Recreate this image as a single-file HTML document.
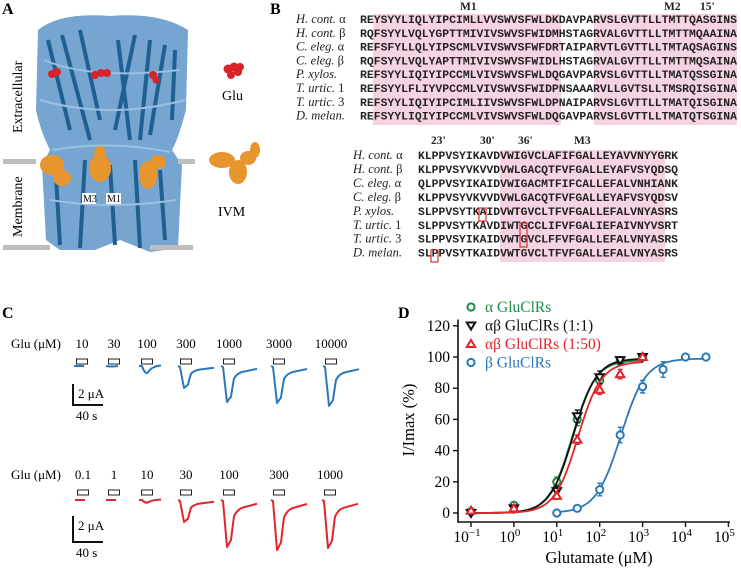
<!DOCTYPE html>
<html><head><meta charset="utf-8"><style>
html,body{margin:0;padding:0;background:#fff;width:741px;height:570px;overflow:hidden}
svg{display:block}
.serif{font-family:"Liberation Serif",serif}
.mono{font-family:"Liberation Mono",monospace;font-weight:bold;font-size:11.4px;fill:#222}
.lab{font-family:"Liberation Serif",serif;font-style:italic;font-size:12.5px;fill:#222}
.pl{font-family:"Liberation Serif",serif;font-weight:bold;font-size:16px}
</style></head><body>
<svg id="fig" width="741" height="570" viewBox="0 0 741 570" xmlns="http://www.w3.org/2000/svg">
<!-- Panel A -->
<g>
<text class="pl" x="2" y="14">A</text>
<g>
<path d="M38,30 Q60,12 110,16 Q160,12 188,30 L186,110 Q178,140 172,150 L182,165 L178,248 L150,252 L120,240 L95,250 L60,250 L46,240 L42,165 L50,150 Q40,130 36,110 Z" fill="#5d95c8" opacity="0.85"/>
<path d="M48,40 L70,130 M62,35 L90,140 M80,30 L100,120 M118,40 L130,140 M135,35 L115,130 M150,40 L140,140 M165,45 L150,135 M175,50 L172,120 M55,160 L60,245 M85,160 L80,248 M110,165 L115,245 M135,160 L140,248 M160,170 L165,240" stroke="#1f5f92" stroke-width="4" fill="none"/>
<path d="M44,60 Q90,80 180,70 M40,100 Q110,120 185,100 M52,150 Q110,140 170,152 M50,200 Q110,210 176,200" stroke="#9cc0e2" stroke-width="2" fill="none"/>
<g fill="#d8232a">
<circle cx="52" cy="74" r="4"/><circle cx="57" cy="72" r="4"/><circle cx="95" cy="75" r="4"/><circle cx="101" cy="73" r="4"/><circle cx="107" cy="73" r="4"/><circle cx="153" cy="75" r="4"/><circle cx="156" cy="80" r="3.5"/>
</g>
<g fill="#e7962f">
<ellipse cx="52" cy="165" rx="12" ry="10"/><ellipse cx="62" cy="178" rx="9" ry="8"/><ellipse cx="100" cy="168" rx="11" ry="14"/><ellipse cx="100" cy="152" rx="6" ry="6"/><ellipse cx="148" cy="175" rx="9" ry="14"/><ellipse cx="158" cy="162" rx="8" ry="7"/>
</g>
<rect x="82" y="193" width="14" height="11" fill="#fff"/><text class="serif" x="83" y="202" font-size="10">M3</text>
<rect x="106" y="193" width="15" height="11" fill="#fff"/><text class="serif" x="107" y="202" font-size="10">M1</text>
</g>
<rect x="3" y="159" width="33" height="5" fill="#bdbdbd"/>
<rect x="178" y="159" width="17" height="5" fill="#bdbdbd"/>
<rect x="3" y="245" width="47" height="5" fill="#bdbdbd"/>
<rect x="150" y="245" width="43" height="5" fill="#bdbdbd"/>
<text class="serif" font-size="14" transform="translate(22,133) rotate(-90)">Extracellular</text>
<text class="serif" font-size="14" transform="translate(22,237) rotate(-90)">Membrane</text>
<g fill="#d8232a"><circle cx="228" cy="69" r="4.5"/><circle cx="234" cy="67" r="4.5"/><circle cx="240" cy="67" r="4"/><circle cx="231" cy="75" r="4"/><circle cx="238" cy="72" r="4"/></g>
<text class="serif" x="222" y="100" font-size="14">Glu</text>
<g fill="#e7962f"><ellipse cx="222" cy="160" rx="13" ry="8"/><ellipse cx="238" cy="172" rx="9" ry="12"/><ellipse cx="248" cy="158" rx="8" ry="7"/><ellipse cx="255" cy="150" rx="5" ry="8"/></g>
<text class="serif" x="218" y="216" font-size="14">IVM</text>
</g>

<!-- Panel B -->
<g>
<text class="pl" x="270" y="14">B</text>
<rect x="373" y="14" width="188" height="111" fill="#f6d3e3"/>
<rect x="594" y="14" width="143" height="111" fill="#f6d3e3"/>
<rect x="500" y="150" width="165" height="112" fill="#f6d3e3"/>
<g class="serif" font-weight="bold" font-size="11.5" fill="#222">
<text x="460" y="10">M1</text><text x="664" y="10">M2</text><text x="700" y="10">15'</text>
<text x="431" y="144">23'</text><text x="480" y="144">30'</text><text x="518" y="144">36'</text><text x="574" y="144">M3</text>
</g>
<g id="seqs"></g>
<g fill="none" stroke="#e0302f" stroke-width="1.2">
<rect x="479" y="208" width="7" height="13"/><rect x="520" y="223" width="7" height="24"/><rect x="431" y="250" width="7" height="12"/>
</g>
</g>

<!-- Panel C -->
<g>
<text class="pl" x="2" y="318">C</text>
<g id="traces"></g>
</g>

<!-- Panel D -->
<g>
<text class="pl" x="398" y="318">D</text>
<g id="chart"></g>
</g>
</svg>
<script>
const NS='http://www.w3.org/2000/svg';
function mk(p,tag,a,txt){const e=document.createElementNS(NS,tag);for(const k in a)e.setAttribute(k,a[k]);if(txt!==undefined)e.textContent=txt;p.appendChild(e);return e;}

// ---- Panel B sequences ----
const speciesA=['H. cont. ','H. cont. ','C. eleg. ','C. eleg. ','P. xylos.','T. urtic. ','T. urtic. ','D. melan.'];
const speciesB=['α','β','α','β','','1','3',''];
const seqTop=['REYSYYLIQLYIPCIMLLVVSWVSFWLDKDAVPARVSLGVTTLLTMTTQASGINS','RQFSYYLVQLYGPTTMIVIVSWVSFWIDMHSTAGRVALGVTTLLTMTTMQAAINA','REFSFYLLQLYIPSCMLVIVSWVSFWFDRTAIPARVTLGVTTLLTMTAQSAGINS','RQFSYYLVQLYAPTTMIVIVSWVSFWIDLHSTAGRVALGVTTLLTMTTMQSAINA','REFSYYLIQIYIPCCMLVIVSWVSFWLDQGAVPARVSLGVTTLLTMATQSSGINA','REFSYYLFLIYVPCCMLVIVSWVSFWIDPNSAAARVLLGVTSLLTMSRQISGINA','REFSYYLIQIYIPCIMLIIVSWVSFWLDPNAIPARVSLGVTTLLTMATQISGINA','REFSYYLIQIYIPCCMLVIVSWVSFWLDQGAVPARVSLGVTTLLTMATQTSGINA'];
const seqBot=['KLPPVSYIKAVDVWIGVCLAFIFGALLEYAVVNYYGRK','KLPPVSYVKVVDVWLGACQTFVFGALLEYAFVSYQDSQ','QLPPVSYIKAIDVWIGACMTFIFCALLEFALVNHIANK','KLPPVSYVKVVDVWLGACQTFVFGALLEYAFVSYQDSV','SLPPVSYTKAIDVWTGVCLTFVFGALLEFALVNYASRS','SLPPVSYTKAVDIWTGCCLIFVFGALIEFAIVNYVSRT','SLPPVSYIKAIDVWTGVCLFFVFGALLEFALVNYASRS','SLPPVSYTKAIDVWTGVCLTFVFGALLEFALVNYASRS'];
const sg=document.getElementById('seqs');
for(let i=0;i<8;i++){
  const y1=23+i*13.8, y2=159+i*13.95;
  let t=mk(sg,'text',{class:'lab',x:296,y:y1});
  
  
  t.textContent=speciesA[i]; if(speciesB[i]){mk(t,'tspan',{'font-style':'normal'},speciesB[i]);}
  let s=mk(sg,'text',{class:'mono',x:360,y:y1,textLength:377,lengthAdjust:'spacingAndGlyphs'},seqTop[i]);
  
  
  t=mk(sg,'text',{class:'lab',x:353,y:y2});
  
  
  t.textContent=speciesA[i]; if(speciesB[i]){mk(t,'tspan',{'font-style':'normal'},speciesB[i]);}
  s=mk(sg,'text',{class:'mono',x:418,y:y2,textLength:260,lengthAdjust:'spacingAndGlyphs'},seqBot[i]);
  
  
}

// ---- Panel C traces ----
const concTop=['10','30','100','300','1000','3000','10000'];
const ampTop=[0,0.3,8,22,36,37,40];   // peak depth (px)
const concBot=['0.1','1','10','30','100','300','1000'];
const ampBot=[0,0,3,22,47,50,48];
const tg=document.getElementById('traces');
function tracePanel(labels,amps,yLab,base,color,xs,scaleY,scaleH){
  const t=mk(tg,'text',{class:'serif',x:11,y:yLab,'font-size':'13'},'Glu (μM)');
  
  
  labels.forEach((l,i)=>{
    const cx=xs[i];
    const lt=mk(tg,'text',{class:'serif',x:cx,y:yLab,'font-size':'13','text-anchor':'middle'},l);
    
    
    const r=mk(tg,'rect',{x:cx-5.5,y:yLab+11,width:11,height:5,fill:'none',stroke:'#222','stroke-width':1});
    
    
    const a=amps[i], x0=cx-8, b=base;
    let d;
    if(a<1){d=`M${x0},${b} L${x0+10},${b}`; if(a>0) d=`M${x0},${b} Q${x0+5},${b+1} ${x0+12},${b}`;}
    else if(a<10){d=`M${x0},${b} L${x0+3},${b} Q${x0+7},${b+a*1.4} ${x0+10},${b+a*0.6} Q${x0+14},${b} ${x0+22},${b-0.5}`;}
    else{d=`M${x0},${b} L${x0+2},${b+1} L${x0+6},${b+a} L${x0+10},${b+a*0.85} Q${x0+12},${b+a*0.5} ${x0+13},${b+a*0.35} Q${x0+16},${b+a*0.2} ${x0+22},${b+a*0.16} L${x0+36},${b+a*0.08}`;}
    const p=mk(tg,'path',{d:d,fill:'none',stroke:color,'stroke-width':2,'stroke-linejoin':'round'});
    
    
  });
  const sb=mk(tg,'path',{d:`M${73},${scaleY} L73,${scaleY+scaleH} L103,${scaleY+scaleH}`,fill:'none',stroke:'#111','stroke-width':2});
  
  
  const s1=mk(tg,'text',{class:'serif',x:78,y:scaleY+14,'font-size':'13'},'2 μA');
  
  
  const s2=mk(tg,'text',{class:'serif',x:76,y:scaleY+scaleH+15,'font-size':'13'},'40 s');
  
  
}
tracePanel(concTop,ampTop,348,366,'#2a78b9',[82,114,147,186,229,279,331],384,21);
tracePanel(concBot,ampBot,479,500,'#e0262b',[83,114,147,186,229,279,330],516,26);

// ---- Panel D chart ----
const xTicksExp=[-1,0,1,2,3,4,5];
const yTicks=[0,20,40,60,80,100,120];
const concA=[0.1,1,10,30,100,300,1000];
const valAlpha=[1,5,20,60,85,97,100];
const valAB11=[0,3,14,62,87,98,100];
const valAB150=[1.5,3,11,47,79,89,100];
const concBeta=[10,30,100,300,1000,3000,10000,30000];
const valBeta=[0,3,15,50,81,92,100,100];
const errAlpha=[1,2,3,4,3,2,1];
const errAB11=[1,1,3,4,4,2,1];
const errAB150=[1,1,2,3,3,3,1];
const errBeta=[1,1,4,5,4,5,1,1];
const ec50=[23,24,31,310];
const hill=[1.6,1.6,1.6,1.5];
const topFit=[98,99,97,99];
const X=c=>471+(Math.log10(c)+1)*42.9;
const Y=v=>513-v*1.56;
const cg=document.getElementById('chart');
const ax=mk(cg,'path',{d:`M458,${Y(124)} L458,522 L730,522`,fill:'none',stroke:'#111','stroke-width':1.6});


yTicks.forEach(v=>{
  const tk=mk(cg,'line',{x1:453,x2:458,y1:Y(v),y2:Y(v),stroke:'#111','stroke-width':1.4});
  
  
  const tl=mk(cg,'text',{class:'serif',x:450,y:Y(v)+5,'font-size':'15.5','text-anchor':'end'},String(v));
  
  
});
xTicksExp.forEach(e=>{
  const x=471+(e+1)*42.9;
  const tk=mk(cg,'line',{x1:x,x2:x,y1:522,y2:527,stroke:'#111','stroke-width':1.4});
  
  
  const tl=mk(cg,'text',{class:'serif',x:x-4,y:542,'font-size':'15.5','text-anchor':'middle'},'10');
  
  
  mk(tl,'tspan',{dy:-6,'font-size':'11'},e<0?'−'+Math.abs(e):String(e));
});
const xt=mk(cg,'text',{class:'serif',x:599,y:563,'font-size':'16.5','text-anchor':'middle'},'Glutamate (μM)');


const yt=mk(cg,'text',{class:'serif',transform:'translate(414,420) rotate(-90)','font-size':'16.5','text-anchor':'middle'},'I/Imax (%)');



const series=[
 {n:'alpha',c:'#1e8a4c',conc:concA,v:valAlpha,e:errAlpha,m:'circle',lab:'α GluClRs',lo:0.1,hi:1000},
 {n:'ab11',c:'#111',conc:concA,v:valAB11,e:errAB11,m:'down',lab:'αβ GluClRs (1:1)',lo:0.1,hi:1000},
 {n:'ab150',c:'#e0262b',conc:concA,v:valAB150,e:errAB150,m:'up',lab:'αβ GluClRs (1:50)',lo:0.1,hi:1000},
 {n:'beta',c:'#2a78b9',conc:concBeta,v:valBeta,e:errBeta,m:'circle',lab:'β GluClRs',lo:10,hi:30000}
];
function marker(g,type,x,y,c){
  let el;
  if(type==='circle') el=mk(g,'circle',{cx:x,cy:y,r:3.6,fill:'#fff',stroke:c,'stroke-width':2});
  else if(type==='down') el=mk(g,'path',{d:`M${x-4.2},${y-3} L${x+4.2},${y-3} L${x},${y+4} Z`,fill:'#fff',stroke:c,'stroke-width':2});
  else el=mk(g,'path',{d:`M${x-4.2},${y+3} L${x+4.2},${y+3} L${x},${y-4} Z`,fill:'#fff',stroke:c,'stroke-width':2});
  return el;
}
series.forEach((s,si)=>{
  const g=mk(cg,'g',{});
  
  
  let d='';
  const l0=Math.log10(s.lo),l1=Math.log10(s.hi);
  for(let k=0;k<=120;k++){const lc=l0+(l1-l0)*k/120,c=Math.pow(10,lc);
    const v=topFit[si]/(1+Math.pow(ec50[si]/c,hill[si]));
    d+=(k?'L':'M')+X(c).toFixed(1)+','+Y(v).toFixed(1);}
  const fl=mk(g,'path',{d:d,fill:'none',stroke:s.c,'stroke-width':1.8});
  
  
  s.conc.forEach((c,i)=>{
    const x=X(c),y=Y(s.v[i]),e=s.e[i]*1.56;
    const eb=mk(g,'path',{d:`M${x},${y-e} L${x},${y+e} M${x-2.5},${y-e} L${x+2.5},${y-e} M${x-2.5},${y+e} L${x+2.5},${y+e}`,stroke:s.c,'stroke-width':1.4});
    
    
    const m=marker(g,s.m,x,y,s.c);
    
    
  });
  const ly=307+si*18.5;
  const lm=marker(g,s.m,471,ly,s.c);
  
  
  const lt=mk(g,'text',{class:'serif',x:485,y:ly+5,'font-size':'15.5',fill:s.c},s.lab);
  
  
});
</script>
</body></html>
